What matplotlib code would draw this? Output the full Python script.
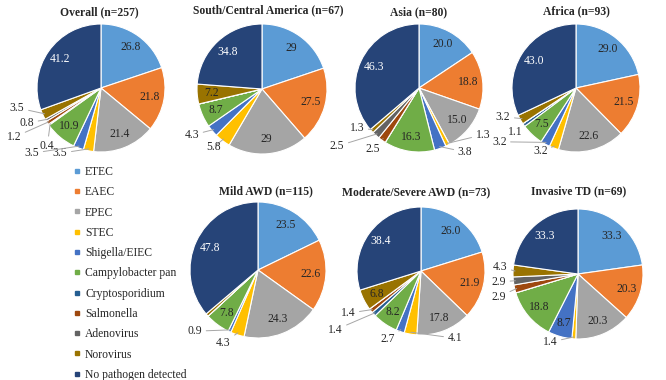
import numpy as np
import matplotlib
matplotlib.use("Agg")
import matplotlib.pyplot as plt
from matplotlib.lines import Line2D

plt.rcParams['font.family'] = ['Liberation Serif', 'DejaVu Serif']

categories = ["ETEC", "EAEC", "EPEC", "STEC", "Shigella/EIEC", "Campylobacter pan",
              "Cryptosporidium", "Salmonella", "Adenovirus", "Norovirus",
              "No pathogen detected"]
colors = ["#5B9BD5", "#ED7D31", "#A5A5A5", "#FFC000", "#4472C4", "#70AD47",
          "#255E91", "#9E480E", "#636363", "#997300", "#264478"]

titles = ["Overall (n=257)", "South/Central America (n=67)", "Asia (n=80)",
          "Africa (n=93)", "Mild AWD (n=115)", "Moderate/Severe AWD (n=73)",
          "Invasive TD (n=69)"]

# percent positive per category, same order as categories
overall = [26.8, 21.8, 21.4, 3.5, 3.5, 10.9, 0.4, 1.2, 0.8, 3.5, 41.2]
south_central = [29, 27.5, 29, 5.8, 4.3, 8.7, 0, 0, 0, 7.2, 34.8]
asia = [20.0, 18.8, 15.0, 1.3, 3.8, 16.3, 0, 2.5, 2.5, 1.3, 46.3]
africa = [29.0, 21.5, 22.6, 3.2, 3.2, 7.5, 1.1, 0, 0, 3.2, 43.0]
mild = [23.5, 22.6, 24.3, 4.3, 0.9, 7.8, 0, 0, 0, 0.9, 47.8]
moderate = [26.0, 21.9, 17.8, 4.1, 2.7, 8.2, 1.4, 1.4, 0, 6.8, 38.4]
invasive = [33.3, 20.3, 20.3, 1.4, 8.7, 18.8, 0, 2.9, 2.9, 4.3, 33.3]

series = [overall, south_central, asia, africa, mild, moderate, invasive]
fmts = ["{:.1f}", "{:g}", "{:.1f}", "{:.1f}", "{:.1f}", "{:.1f}", "{:.1f}"]

# layout: pie centre / radius in pixels, title centre, outside labels (radius units)
W, H = 666, 380
layout = [
    dict(c=(101, 88), r=64, t=(99, 12),
         out={9: (-1.31, -0.31), 8: (-1.16, -0.55), 7: (-1.36, -0.77),
              6: (-0.84, -0.91), 4: (-1.08, -1.02), 3: (-0.64, -1.02)}),
    dict(c=(262, 89), r=65, t=(268, 10),
         out={4: (-1.08, -0.71), 3: (-0.74, -0.89)}),
    dict(c=(419, 88), r=64, t=(419, 12),
         out={9: (-0.97, -0.62), 8: (-1.28, -0.91), 7: (-0.72, -0.95),
              3: (1.0, -0.73), 4: (0.72, -1.0)}),
    dict(c=(576, 88), r=64, t=(576, 11),
         out={9: (-1.14, -0.45), 6: (-0.95, -0.69), 4: (-1.2, -0.84),
              3: (-0.56, -0.98)}),
    dict(c=(258, 270), r=68, t=(266, 191),
         out={4: (-0.93, -0.9), 3: (-0.51, -1.07)}, hide={9}),
    dict(c=(421, 271), r=64, t=(416, 192),
         out={7: (-1.14, -0.66), 6: (-1.34, -0.92), 4: (-0.52, -1.06),
              3: (0.53, -1.05)}),
    dict(c=(578, 274), r=65, t=(579, 191),
         out={9: (-1.2, 0.11), 8: (-1.22, -0.12), 7: (-1.22, -0.35),
              3: (-0.43, -1.05)}),
]

fs = 8.4
fig = plt.figure(figsize=(W / 100, H / 100), dpi=100)

for vals, title, fmt, lay in zip(series, titles, fmts, layout):
    cx, cy = lay["c"]
    r = lay["r"]
    L = 1.6
    w = 2 * L * r
    ax = fig.add_axes([(cx - w / 2) / W, 1 - (cy + w / 2) / H, w / W, w / H])
    wedges, _ = ax.pie(vals, colors=colors, startangle=90, counterclock=False,
                       wedgeprops=dict(edgecolor="white", linewidth=0.8))
    ax.set_xlim(-L, L)
    ax.set_ylim(-L, L)
    ax.set_aspect("equal")
    ax.axis("off")
    for i, (v, wd) in enumerate(zip(vals, wedges)):
        if v == 0 or i in lay.get("hide", set()):
            continue
        ang = np.deg2rad((wd.theta1 + wd.theta2) / 2)
        txt = fmt.format(v)
        tc = "white" if i == 10 else "#262626"
        if i in lay["out"]:
            ax.annotate(txt, xy=(0.97 * np.cos(ang), 0.97 * np.sin(ang)),
                        xytext=lay["out"][i], ha="center", va="center",
                        fontsize=fs, color="#262626",
                        arrowprops=dict(arrowstyle="-", color="#A6A6A6", lw=0.7,
                                        shrinkA=1, shrinkB=0))
        else:
            ax.text(0.78 * np.cos(ang), 0.78 * np.sin(ang), txt, ha="center",
                    va="center", fontsize=fs, color=tc)
    tx, ty = lay["t"]
    fig.text(tx / W, 1 - ty / H, title, ha="center", va="center",
             fontsize=fs, fontweight="bold", color="#262626")

handles = [Line2D([], [], marker="s", ls="", color=c, markersize=3.5) for c in colors]
fig.legend(handles, categories, loc="upper left", bbox_to_anchor=(73.5 / W, 1 - 166 / H),
           frameon=False, fontsize=fs, handlelength=0.6, handletextpad=0.4,
           labelspacing=0.71, borderpad=0, borderaxespad=0, labelcolor="#262626")

fig.savefig("out.png", dpi=100, facecolor="white")
